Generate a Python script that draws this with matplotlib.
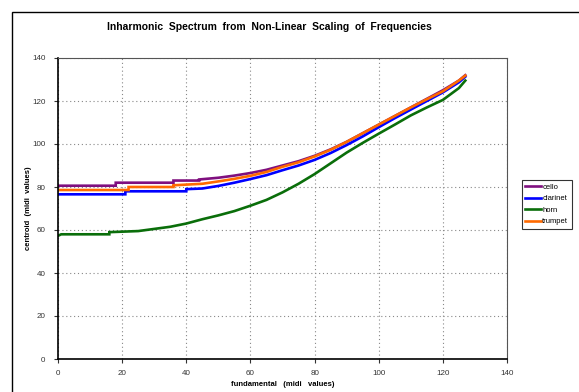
import matplotlib
matplotlib.use("Agg")
import matplotlib.pyplot as plt
from matplotlib.patches import Rectangle

plt.rcParams['font.family'] = ['Liberation Sans', 'DejaVu Sans']

title = "Inharmonic  Spectrum  from  Non-Linear  Scaling  of  Frequencies"
xlabel = "fundamental   (midi   values)"
ylabel = "centroid  (midi  values)"

cello_x = [0, 18, 18, 36, 36, 44, 44, 50, 55, 60, 65, 70, 75, 80, 85, 90, 95, 100, 105, 110, 115, 120, 125, 127]
cello_y = [80.6, 80.6, 82, 82, 83, 83, 83.5, 84.3, 85.3, 86.5, 88, 90, 92, 94.5, 97.5, 101, 105, 109, 113, 117, 121, 125, 129.5, 132]

clarinet_x = [0, 21, 21, 40, 40, 45, 50, 55, 60, 65, 70, 75, 80, 85, 90, 95, 100, 105, 110, 115, 120, 125, 127]
clarinet_y = [76.6, 76.6, 78, 78, 79, 79.3, 80.5, 82, 83.7, 85.5, 87.8, 90, 92.6, 95.8, 99.5, 103.5, 107.8, 112, 116, 120, 124, 128.7, 131.3]

horn_x = [0, 1, 16, 16, 25, 30, 35, 40, 45, 50, 55, 60, 65, 70, 75, 80, 85, 90, 95, 100, 105, 110, 115, 120, 125, 127]
horn_y = [57.3, 58, 58, 59, 59.5, 60.5, 61.5, 63, 65, 66.8, 68.8, 71.3, 74, 77.5, 81.5, 86, 91, 96, 100.5, 104.8, 109, 113.3, 117, 120.5, 126, 129.5]

trumpet_x = [0, 22, 22, 36, 36, 45, 50, 55, 60, 65, 70, 75, 80, 85, 90, 95, 100, 105, 110, 115, 120, 125, 127]
trumpet_y = [78.6, 78.6, 80, 80, 80.8, 81.5, 82.6, 83.8, 85.2, 87, 89.4, 91.5, 94.2, 97.3, 101, 105, 109, 113, 117, 120.8, 124.5, 129.5, 131.8]

series = [
    ("cello", cello_x, cello_y, "#7f0f7f"),
    ("clarinet", clarinet_x, clarinet_y, "#0000ff"),
    ("horn", horn_x, horn_y, "#0a6e0a"),
    ("trumpet", trumpet_x, trumpet_y, "#ff6a00"),
]

xticks = [0, 20, 40, 60, 80, 100, 120, 140]
yticks = [0, 20, 40, 60, 80, 100, 120, 140]

W, H = 579, 392
fig = plt.figure(figsize=(W / 100, H / 100), dpi=100)

# outer chart frame
fig.patches.append(Rectangle((12 / W, -0.05), 1.1, 1 - 12 / H + 0.05,
                             transform=fig.transFigure, fill=False,
                             edgecolor="black", linewidth=1.0))

ax = fig.add_axes([58 / W, 1 - 359 / H, (507 - 58) / W, (359 - 58) / H])

for name, xs, ys, c in series:
    ax.plot(xs, ys, color=c, linewidth=1.9, label=name, solid_joinstyle="miter")

ax.set_xlim(0, 140)
ax.set_ylim(0, 140)
ax.set_xticks(xticks)
ax.set_yticks(yticks)
ax.tick_params(axis="both", labelsize=5.8, colors="#333333", length=3, width=0.8,
               direction="out")
ax.tick_params(axis="x", pad=5)
ax.tick_params(axis="y", pad=6)
ax.grid(True, linestyle=(0, (1, 2.5)), color="#888888", linewidth=0.8)

for s in ["left", "bottom"]:
    ax.spines[s].set_color("black")
    ax.spines[s].set_linewidth(1.2)
for s in ["top", "right"]:
    ax.spines[s].set_color("#555555")
    ax.spines[s].set_linewidth(0.8)

ax.set_xlabel(xlabel, fontsize=5.5, fontweight="bold", labelpad=3)
ax.set_ylabel(ylabel, fontsize=5.5, fontweight="bold", labelpad=1)
ax.yaxis.set_label_coords(-0.058, 0.5)

fig.text(269 / W, 1 - 27 / H, title, ha="center", va="center",
         fontsize=7.5, fontweight="bold")

leg = ax.legend(loc="upper left", bbox_to_anchor=(522 / W, 1 - 180 / H),
                bbox_transform=fig.transFigure, fontsize=5.5, frameon=True,
                fancybox=False, edgecolor="black", handlelength=2.0,
                handletextpad=0.2, borderpad=0.45, labelspacing=0.55,
                borderaxespad=0)
leg.get_frame().set_linewidth(0.8)

fig.savefig("out.png", dpi=100)
